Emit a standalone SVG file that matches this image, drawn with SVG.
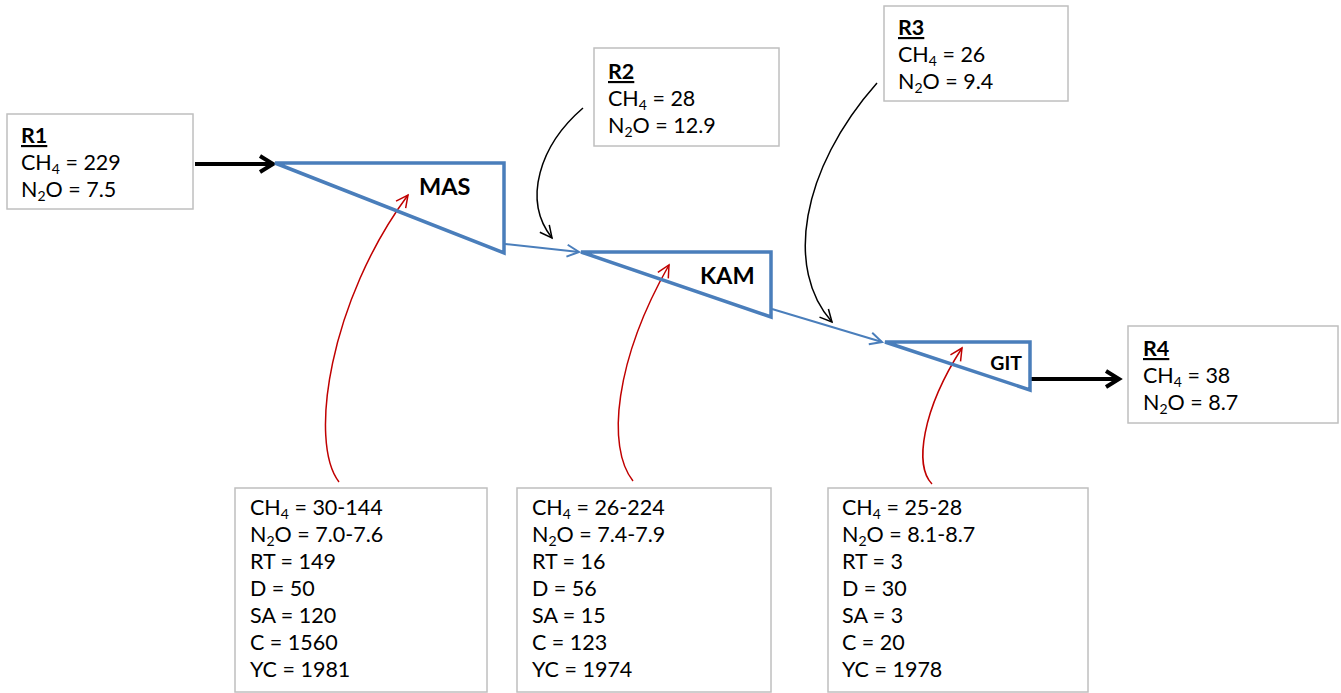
<svg xmlns="http://www.w3.org/2000/svg" width="1341" height="693" viewBox="0 0 1341 693">
<style>
.box{fill:#fff;stroke:#bfbfbf;stroke-width:1.5}
.t{font-family:Lato,"Liberation Sans",sans-serif;font-size:21.5px;fill:#000}
.h{font-weight:bold;text-decoration:underline}
.sub{font-size:14px}
.lbl{font-family:Lato,"Liberation Sans",sans-serif;font-weight:bold;font-size:23.5px;fill:#000}
.tri{fill:none;stroke:#4a7ebb;stroke-width:3.5;stroke-linejoin:miter}
.flow{fill:none;stroke:#4a7ebb;stroke-width:2}
.thick{fill:none;stroke:#000;stroke-width:4}
.thin{fill:none;stroke:#000;stroke-width:1.5}
.red{fill:none;stroke:#c00000;stroke-width:1.5}
</style>
<defs>
<marker id="aThick" markerUnits="userSpaceOnUse" viewBox="-16 -12 20 24" markerWidth="20" markerHeight="24" refX="0" refY="0" orient="auto" overflow="visible"><path d="M-13,-8 L0,0 L-13,8" fill="none" stroke="#000" stroke-width="4"/></marker>
<marker id="aBlue" markerUnits="userSpaceOnUse" viewBox="-16 -12 20 24" markerWidth="20" markerHeight="24" refX="0" refY="0" orient="auto" overflow="visible"><path d="M-12,-6 L0,0 L-12,6" fill="none" stroke="#4a7ebb" stroke-width="2"/></marker>
<marker id="aBlack" markerUnits="userSpaceOnUse" viewBox="-16 -12 20 24" markerWidth="20" markerHeight="24" refX="0" refY="0" orient="auto" overflow="visible"><path d="M-12,-6 L0,0 L-12,6" fill="none" stroke="#000" stroke-width="1.5"/></marker>
<marker id="aRed" markerUnits="userSpaceOnUse" viewBox="-16 -12 20 24" markerWidth="20" markerHeight="24" refX="0" refY="0" orient="auto" overflow="visible"><path d="M-12,-6 L0,0 L-12,6" fill="none" stroke="#c00000" stroke-width="1.5"/></marker>
</defs>

<g id="connectors">
<line class="thick" x1="195" y1="164" x2="273" y2="164" marker-end="url(#aThick)"/>
<line class="flow" x1="505" y1="244" x2="579" y2="252" marker-end="url(#aBlue)"/>
<line class="flow" x1="772" y1="309" x2="882" y2="342" marker-end="url(#aBlue)"/>
<line class="thick" x1="1031" y1="379" x2="1119" y2="379" marker-end="url(#aThick)"/>
<path class="thin" d="M583,108 C540,145 522,200 552,238" marker-end="url(#aBlack)"/>
<path class="thin" d="M877,83 C800,170 785,270 832,322" marker-end="url(#aBlack)"/>
<path class="red" d="M339,482 C308,442 330,300 408,195" marker-end="url(#aRed)"/>
<path class="red" d="M633,481 C606,447 615,360 669,265" marker-end="url(#aRed)"/>
<path class="red" d="M932,484 C914,466 922,410 962,348" marker-end="url(#aRed)"/>
</g>

<g id="MAS">
<path class="tri" d="M275,163 L504,163 L504,253 Z"/>
<text class="lbl" x="419" y="195">MAS</text>
</g>
<g id="KAM">
<path class="tri" d="M581,252 L771,252 L771,317 Z"/>
<text class="lbl" x="700" y="284">KAM</text>
</g>
<g id="GIT">
<path class="tri" d="M885,342 L1030,342 L1030,390 Z"/>
<text class="lbl" x="1022" y="370" text-anchor="end" style="font-size:19.5px">GIT</text>
</g>

<g id="R1">
<rect class="box" x="7" y="114" width="186" height="95"/>
<text class="t h" x="21" y="143">R1</text>
<text class="t" x="21" y="170">CH<tspan class="sub" dy="4">4</tspan><tspan dy="-4"> = 229</tspan></text>
<text class="t" x="21" y="197">N<tspan class="sub" dy="4">2</tspan><tspan dy="-4">O = 7.5</tspan></text>
</g>
<g id="R2">
<rect class="box" x="594" y="48" width="185" height="98"/>
<text class="t h" x="608" y="79">R2</text>
<text class="t" x="608" y="106">CH<tspan class="sub" dy="4">4</tspan><tspan dy="-4"> = 28</tspan></text>
<text class="t" x="608" y="133">N<tspan class="sub" dy="4">2</tspan><tspan dy="-4">O = 12.9</tspan></text>
</g>
<g id="R3">
<rect class="box" x="884" y="6" width="184" height="95"/>
<text class="t h" x="898" y="35">R3</text>
<text class="t" x="898" y="62">CH<tspan class="sub" dy="4">4</tspan><tspan dy="-4"> = 26</tspan></text>
<text class="t" x="898" y="89">N<tspan class="sub" dy="4">2</tspan><tspan dy="-4">O = 9.4</tspan></text>
</g>
<g id="R4">
<rect class="box" x="1128" y="326" width="210" height="97"/>
<text class="t h" x="1143" y="356">R4</text>
<text class="t" x="1143" y="383">CH<tspan class="sub" dy="4">4</tspan><tspan dy="-4"> = 38</tspan></text>
<text class="t" x="1143" y="410">N<tspan class="sub" dy="4">2</tspan><tspan dy="-4">O = 8.7</tspan></text>
</g>

<g id="MAS-data">
<rect class="box" x="235" y="488" width="252" height="204"/>
<text class="t" x="250" y="515">CH<tspan class="sub" dy="4">4</tspan><tspan dy="-4"> = 30-144</tspan></text>
<text class="t" x="250" y="542">N<tspan class="sub" dy="4">2</tspan><tspan dy="-4">O = 7.0-7.6</tspan></text>
<text class="t" x="250" y="569">RT = 149</text>
<text class="t" x="250" y="596">D = 50</text>
<text class="t" x="250" y="623">SA = 120</text>
<text class="t" x="250" y="650">C = 1560</text>
<text class="t" x="250" y="677">YC = 1981</text>
</g>
<g id="KAM-data">
<rect class="box" x="517" y="488" width="254" height="204"/>
<text class="t" x="532" y="515">CH<tspan class="sub" dy="4">4</tspan><tspan dy="-4"> = 26-224</tspan></text>
<text class="t" x="532" y="542">N<tspan class="sub" dy="4">2</tspan><tspan dy="-4">O = 7.4-7.9</tspan></text>
<text class="t" x="532" y="569">RT = 16</text>
<text class="t" x="532" y="596">D = 56</text>
<text class="t" x="532" y="623">SA = 15</text>
<text class="t" x="532" y="650">C = 123</text>
<text class="t" x="532" y="677">YC = 1974</text>
</g>
<g id="GIT-data">
<rect class="box" x="828" y="488" width="260" height="204"/>
<text class="t" x="842" y="515">CH<tspan class="sub" dy="4">4</tspan><tspan dy="-4"> = 25-28</tspan></text>
<text class="t" x="842" y="542">N<tspan class="sub" dy="4">2</tspan><tspan dy="-4">O = 8.1-8.7</tspan></text>
<text class="t" x="842" y="569">RT = 3</text>
<text class="t" x="842" y="596">D = 30</text>
<text class="t" x="842" y="623">SA = 3</text>
<text class="t" x="842" y="650">C = 20</text>
<text class="t" x="842" y="677">YC = 1978</text>
</g>
</svg>
